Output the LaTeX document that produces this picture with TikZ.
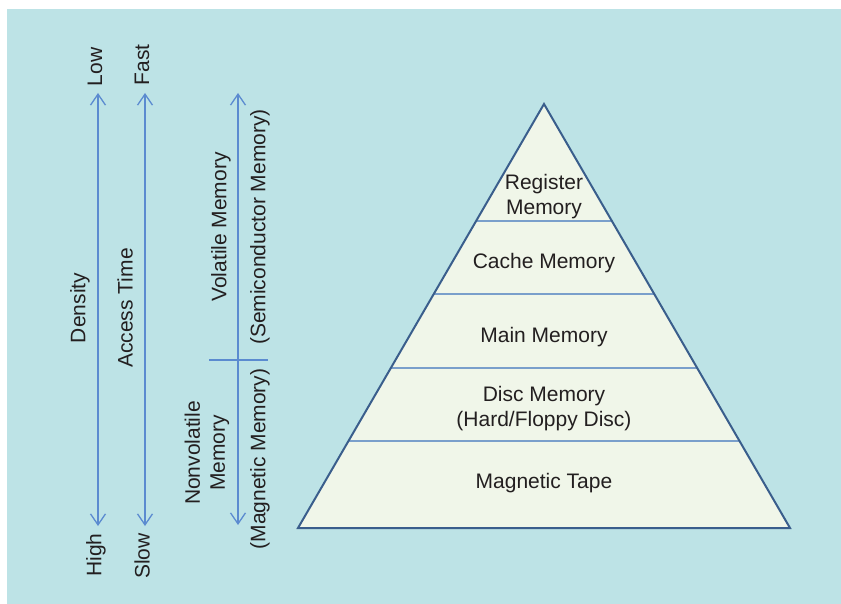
\documentclass[tikz,border=0pt]{standalone}
\usepackage{fontspec}
\setmainfont{Liberation Sans}
\usetikzlibrary{arrows.meta,calc}
\definecolor{bgcyan}{HTML}{BDE3E6}
\definecolor{pyrfill}{HTML}{F0F6E9}
\definecolor{pyredge}{HTML}{3A5E8C}
\definecolor{bandline}{HTML}{7A9FCB}
\definecolor{arrowblue}{HTML}{5B8BD0}
\definecolor{txt}{HTML}{231F20}
\begin{document}
\begin{tikzpicture}[x=1pt,y=-1pt,
  lbl/.style={font=\fontsize{21}{25}\selectfont, text=txt, inner sep=0pt, align=center},
  vlbl/.style={lbl, rotate=90},
  barb/.tip={Straight Barb[length=11pt,width=15pt]},
  axisline/.style={draw=arrowblue, line width=1.3pt},
  band/.style={draw=bandline, line width=1.6pt}
]
% canvas and background panel
\useasboundingbox (0,0) rectangle (841,604);
\fill[white] (0,0) rectangle (841,604);
\fill[bgcyan] (7,9) rectangle (841,604);

% ---- pyramid ----
\coordinate (apex) at (544,104);
\coordinate (bl) at (298,528);
\coordinate (br) at (790,528);
\fill[pyrfill] (apex) -- (bl) -- (br) -- cycle;

% band separators
\foreach \t [count=\i] in {0.2759,0.4481,0.6226,0.7948}{
  \coordinate (sepL\i) at ($(apex)!\t!(bl)$);
  \coordinate (sepR\i) at ($(apex)!\t!(br)$);
  \draw[band] (sepL\i) -- (sepR\i);
}
\draw[draw=pyredge, line width=2pt, line join=miter] (apex) -- (bl) -- (br) -- cycle;

\node[lbl] (reg)  at (544,197) {Register\\Memory};
\node[lbl] (cache) at (544,263) {Cache Memory};
\node[lbl] (main) at (544,337) {Main Memory};
\node[lbl] (disc) at (544,409) {Disc Memory\\(Hard/Floppy Disc)};
\node[lbl] (tape) at (544,483) {Magnetic Tape};

% ---- density axis ----
\coordinate (densTop) at (98,93);
\coordinate (densBot) at (98,526);
\draw[axisline, barb-barb] (densBot) -- (densTop);
\node[vlbl] (low)  at (95,67) {Low};
\node[vlbl] (high) at (96,555) {High};
\node[vlbl] (dens) at (80,308) {Density};

% ---- access time axis ----
\coordinate (accTop) at (145,93);
\coordinate (accBot) at (145,526);
\draw[axisline, barb-barb] (accBot) -- (accTop);
\node[vlbl] (fast) at (142,65) {Fast};
\node[vlbl] (slow) at (142,556) {Slow};
\node[vlbl] (acc)  at (125,308) {Access Time};

% ---- volatility axis ----
\coordinate (volTop) at (238,93);
\coordinate (volBot) at (238,525);
\coordinate (splitL) at (209,360);
\coordinate (splitR) at (268,360);
\draw[axisline, barb-barb] (volBot) -- (volTop);
\draw[axisline] (splitL) -- (splitR);
\node[vlbl] (vol)  at (221,227) {Volatile Memory};
\node[vlbl] (semi) at (260,227) {(Semiconductor Memory)};
\node[vlbl] (nonvol) at (207,453) {Nonvolatile\\Memory};
\node[vlbl] (magn) at (260,459) {(Magnetic Memory)};
\end{tikzpicture}
\end{document}
